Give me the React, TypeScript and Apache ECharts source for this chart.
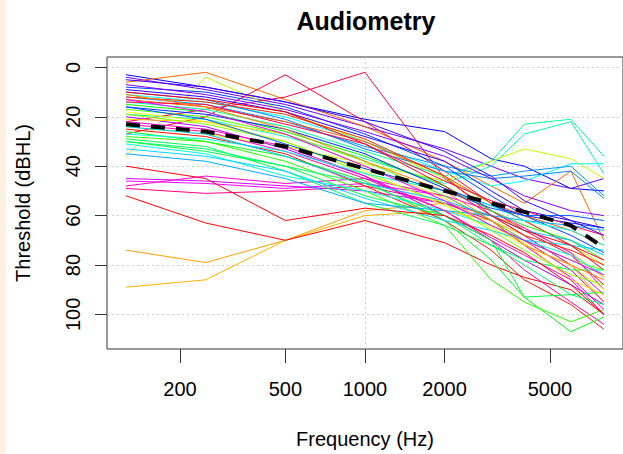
import React, { useEffect, useRef } from "react";
import * as echarts from "echarts";

const frequencies = [125, 250, 500, 1000, 2000, 3000, 4000, 6000, 8000];

// thresholds (dBHL) per subject at each frequency
const subjectThresholds: number[][] = [
  [3, 8, 14, 21, 26, 37, 40, 49, 50],
  [4, 9, 15, 24, 33, 40, 45, 49, 45],
  [6, 2, 13, 24, 38, 48, 55, 42, 70],
  [36, 4, 18, 30, 45, 55, 62, 72, 80],
  [27, 20, 3, 22, 42, 55, 62, 72, 82],
  [22, 17, 12, 2, 45, 58, 66, 76, 88],
  [14, 17, 24, 34, 44, 38, 23, 21, 36],
  [19, 21, 28, 37, 47, 40, 27, 22, 43],
  [24, 27, 32, 39, 46, 38, 33, 37, 45],
  [11, 14, 20, 30, 42, 48, 46, 39, 39],
  [12, 15, 22, 32, 40, 44, 42, 40, 52],
  [10, 13, 21, 33, 42, 45, 44, 42, 53],
  [74, 79, 70, 58, 55, 60, 65, 75, 85],
  [89, 86, 70, 60, 58, 62, 68, 80, 95],
  [52, 63, 70, 62, 71, 80, 85, 90, 100],
  [49, 51, 50, 48, 55, 62, 70, 82, 95],
  [46, 47, 49, 47, 52, 58, 65, 75, 90],
  [45, 46, 48, 50, 55, 60, 68, 80, 92],
  [48, 44, 47, 45, 52, 62, 72, 85, 98],
  [8, 10, 16, 27, 40, 52, 60, 68, 75],
  [9, 12, 18, 28, 38, 50, 58, 62, 65],
  [13, 16, 22, 30, 44, 55, 60, 66, 72],
  [15, 18, 26, 36, 48, 58, 64, 70, 78],
  [17, 20, 27, 38, 52, 62, 70, 78, 82],
  [18, 22, 30, 42, 56, 65, 72, 80, 90],
  [20, 24, 33, 44, 60, 70, 78, 88, 96],
  [23, 26, 34, 45, 58, 70, 82, 95, 104],
  [25, 28, 35, 48, 62, 74, 86, 96, 106],
  [26, 30, 36, 46, 62, 78, 93, 107, 101],
  [28, 30, 38, 50, 64, 86, 95, 103, 98],
  [30, 34, 40, 52, 60, 70, 93, 92, 91],
  [29, 32, 42, 55, 64, 72, 78, 82, 82],
  [31, 35, 44, 50, 58, 64, 70, 76, 84],
  [33, 36, 42, 53, 62, 66, 70, 72, 74],
  [35, 38, 45, 55, 58, 60, 62, 64, 66],
  [16, 19, 25, 35, 49, 56, 60, 63, 65],
  [14, 15, 23, 31, 46, 54, 58, 64, 68],
  [12, 14, 19, 29, 44, 60, 68, 74, 80],
  [7, 11, 17, 26, 36, 45, 52, 58, 60],
  [5, 8, 14, 22, 34, 44, 54, 62, 68],
  [21, 22, 27, 40, 53, 64, 71, 86, 92],
  [19, 23, 30, 43, 55, 66, 74, 84, 88],
  [22, 25, 32, 44, 58, 69, 76, 86, 100],
  [27, 29, 34, 43, 50, 56, 62, 66, 72],
  [24, 27, 36, 47, 54, 60, 66, 70, 76],
  [11, 16, 25, 38, 50, 62, 72, 80, 86],
  [13, 18, 27, 40, 54, 64, 70, 78, 84],
  [16, 21, 31, 41, 50, 57, 60, 60, 62],
  [10, 13, 18, 31, 48, 60, 66, 72, 78],
  [30, 33, 40, 47, 60, 72, 80, 92, 96],
  [40, 45, 62, 57, 60, 68, 75, 88, 100],
];

const subjectHues = [
  240, 265, 25, 80, 350, 345, 155, 160, 75, 180, 205, 210, 38, 42, 0, 330, 300,
  290, 310, 225, 250, 20, 120, 100, 60, 280, 320, 5, 125, 110, 135, 140, 170,
  190, 200, 230, 340, 10, 270, 255, 50, 90, 315, 175, 195, 30, 295, 220, 355,
  145, 357,
];

const meanThreshold = [23, 26, 32, 41, 50, 55, 58.5, 64, 73];

const xTickValues = [200, 500, 1000, 2000, 5000];
const yTickValues = [0, 20, 40, 60, 80, 100];
const xGridValues = [1000];
const yGridValues = [0, 20, 40, 60, 80, 100];

function hslToHex(h: number, s: number, l: number): string {
  s /= 100;
  l /= 100;
  const k = (n: number) => (n + h / 30) % 12;
  const a = s * Math.min(l, 1 - l);
  const f = (n: number) =>
    l - a * Math.max(-1, Math.min(k(n) - 3, Math.min(9 - k(n), 1)));
  const toHex = (x: number) =>
    Math.round(x * 255)
      .toString(16)
      .padStart(2, "0");
  return "#" + toHex(f(0)) + toHex(f(8)) + toHex(f(4));
}

const FONT = "Liberation Sans, Arial, sans-serif";

export default function App() {
  const ref = useRef<HTMLDivElement>(null);

  useEffect(() => {
    if (!ref.current) return;
    const chart = echarts.init(ref.current, undefined, { renderer: "svg" });

    const lg = (v: number) => Math.log10(v);

    const subjectSeries = subjectThresholds.map((vals, i) => ({
      type: "line" as const,
      data: frequencies.map((f, j) => [lg(f), vals[j]]),
      symbol: "none",
      showSymbol: false,
      silent: true,
      z: 2,
      lineStyle: { width: 1, color: hslToHex(subjectHues[i % subjectHues.length], 100, 50) },
    }));

    const gridSeries = {
      type: "line" as const,
      data: [] as number[][],
      silent: true,
      z: 1,
      markLine: {
        silent: true,
        symbol: ["none", "none"],
        z: 1,
        animation: false,
        label: { show: false },
        lineStyle: { color: "#cfcfcf", type: [2, 3], width: 1 },
        data: [
          ...xGridValues.map((v) => ({ xAxis: lg(v) })),
          ...yGridValues.map((v) => ({ yAxis: v })),
        ],
      },
    };

    const meanSeries = {
      type: "line" as const,
      data: frequencies.map((f, j) => [lg(f), meanThreshold[j]]),
      symbol: "none",
      showSymbol: false,
      silent: true,
      z: 3,
      lineStyle: { width: 4, color: "#000", type: [14, 11] },
    };

    chart.setOption({
      animation: false,
      backgroundColor: "#ffffff",
      grid: {
        left: 107,
        top: 57,
        width: 518,
        height: 293,
        show: true,
        borderColor: "#333",
        borderWidth: 1,
        backgroundColor: "transparent",
        containLabel: false,
      },
      xAxis: {
        type: "value",
        position: "bottom",
        min: lg(105.9),
        max: lg(9446),
        axisLine: { show: false, onZero: false },
        splitLine: { show: false },
        axisTick: {
          show: true,
          length: 14,
          customValues: xTickValues.map(lg),
          lineStyle: { color: "#333", width: 1 },
        },
        axisLabel: {
          show: true,
          customValues: xTickValues.map(lg),
          formatter: (v: number) => String(Math.round(Math.pow(10, v))),
          fontSize: 20,
          fontFamily: FONT,
          color: "#000",
          margin: 30,
        },
        name: "Frequency (Hz)",
        nameLocation: "middle",
        nameGap: 80,
        nameTextStyle: { fontSize: 20, fontFamily: FONT, color: "#000" },
      },
      yAxis: {
        type: "value",
        position: "left",
        inverse: true,
        min: -4.2,
        max: 114,
        axisLine: { show: false, onZero: false },
        splitLine: { show: false },
        axisTick: {
          show: true,
          length: 12,
          customValues: yTickValues,
          lineStyle: { color: "#333", width: 1 },
        },
        axisLabel: {
          show: true,
          customValues: yTickValues,
          rotate: 90,
          fontSize: 20,
          fontFamily: FONT,
          color: "#000",
          margin: 24,
        },
        name: "Threshold (dBHL)",
        nameLocation: "middle",
        nameRotate: 90,
        nameGap: 74,
        nameTextStyle: { fontSize: 20, fontFamily: FONT, color: "#000" },
      },
      graphic: [
        {
          type: "rect",
          left: 0,
          top: 0,
          shape: { x: 0, y: 0, width: 6, height: 454 },
          style: { fill: "#fcf2e2" },
          silent: true,
        },
        {
          type: "text",
          x: 366,
          y: 21,
          style: {
            text: "Audiometry",
            font: `bold 25px ${FONT}`,
            fill: "#000",
            textAlign: "center",
            textVerticalAlign: "middle",
          },
          silent: true,
        },
      ],
      series: [gridSeries, ...subjectSeries, meanSeries],
    });

    return () => {
      chart.dispose();
    };
  }, []);

  return (
    <div
      ref={ref}
      style={{
        position: "fixed",
        left: 0,
        top: 0,
        width: 623,
        height: 454,
        background: "#fff",
      }}
    />
  );
}
